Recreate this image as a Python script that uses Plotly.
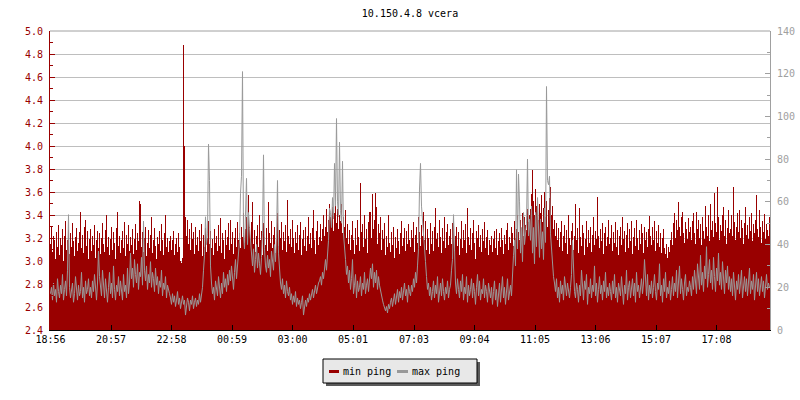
import plotly.graph_objects as go

TITLE = "10.150.4.8 vcera"
START = "18:56"
STEP_MIN = 2
TICK_LABELS = ["18:56", "20:57", "22:58", "00:59", "03:00", "05:01",
               "07:03", "09:04", "11:05", "13:06", "15:07", "17:08"]
LEFT_RANGE = [2.4, 5.0]
RIGHT_RANGE = [0, 140]
LEGEND_NAMES = ["min ping", "max ping"]

# min ping (ms, left axis), one value per 2 minutes
MIN_PING = [
    3.15, 3.30, 3.08, 3.22, 3.18, 3.02, 3.25, 3.12, 3.31, 3.05, 3.20, 3.14, 3.28, 3.00, 3.22, 3.35, 3.10, 3.18, 3.27, 3.06,
    3.24, 3.12, 3.33, 3.17, 3.04, 3.21, 3.29, 3.09, 3.16, 3.25, 3.43, 3.11, 3.23, 3.07, 3.30, 3.36, 3.13, 3.26, 3.02, 3.19,
    3.28, 3.09, 3.22, 3.14, 3.31, 3.03, 3.18, 3.26, 3.11, 3.24, 3.06, 3.20, 3.33, 3.15, 3.08, 3.27, 3.40, 3.12, 3.21, 3.05,
    3.19, 3.30, 3.10, 3.25, 3.16, 3.02, 3.29, 3.43, 3.13, 3.22, 3.07, 3.18, 3.26, 3.11, 3.34, 3.04, 3.23, 3.15, 3.31, 3.09,
    3.21, 3.14, 3.28, 3.06, 3.19, 3.32, 3.10, 3.24, 3.17, 3.52, 3.50, 3.12, 3.25, 3.08, 3.20, 3.30, 3.04, 3.16, 3.27, 3.11,
    3.23, 3.38, 3.07, 3.18, 3.29, 3.13, 3.02, 3.21, 3.15, 3.26, 3.09, 3.32, 3.18, 3.05, 3.24, 3.40, 3.12, 3.20, 3.08, 3.17,
    3.22, 3.10, 3.18, 3.26, 3.05, 3.15, 3.20, 3.08, 3.24, 3.12, 3.00, 2.98, 3.03, 4.88, 4.00, 3.38, 3.22, 3.36, 3.15, 3.28,
    3.10, 3.33, 3.19, 3.25, 3.06, 3.30, 3.14, 3.21, 3.09, 3.27, 3.17, 3.32, 3.04, 3.23, 3.12, 3.29, 3.08, 3.20, 3.35, 3.15,
    3.26, 3.11, 3.19, 3.05, 3.28, 3.16, 3.22, 3.09, 3.31, 3.13, 3.37, 3.07, 3.24, 3.18, 3.02, 3.27, 3.14, 3.21, 3.33, 3.10,
    3.36, 3.15, 3.25, 3.06, 3.20, 3.29, 3.12, 3.34, 3.18, 3.24, 3.11, 3.30, 3.21, 3.42, 3.16, 3.28, 3.38, 3.22, 3.57, 3.30,
    3.19, 3.34, 3.51, 3.15, 3.27, 3.08, 3.22, 3.31, 3.12, 3.40, 3.18, 3.26, 3.05, 3.33, 3.21, 3.14, 3.29, 3.09, 3.51, 3.24,
    3.16, 3.35, 3.11, 3.23, 3.30, 3.07, 3.19, 3.42, 3.13, 3.27, 3.20, 3.34, 3.10, 3.25, 3.17, 3.31, 3.08, 3.53, 3.22, 3.15,
    3.28, 3.12, 3.36, 3.20, 3.07, 3.25, 3.16, 3.31, 3.10, 3.23, 3.34, 3.05, 3.19, 3.27, 3.13, 3.30, 3.09, 3.22, 3.38, 3.15,
    3.24, 3.11, 3.29, 3.44, 3.18, 3.06, 3.26, 3.35, 3.14, 3.21, 3.32, 3.17, 3.28, 3.40, 3.22, 3.30, 3.45, 3.25, 3.36, 3.50,
    3.38, 3.30, 3.47, 3.26, 3.42, 3.59, 3.33, 3.45, 3.28, 3.40, 3.35, 3.50, 3.24, 3.38, 3.30, 3.44, 3.20, 3.32, 3.15, 3.27,
    3.10, 3.23, 3.35, 3.18, 3.06, 3.29, 3.14, 3.36, 3.21, 3.09, 3.68, 3.25, 3.32, 3.12, 3.40, 3.19, 3.28, 3.07, 3.34, 3.43,
    3.43, 3.20, 3.58, 3.28, 3.36, 3.59, 3.47, 3.15, 3.32, 3.24, 3.38, 3.10, 3.27, 3.19, 3.33, 3.05, 3.22, 3.12, 3.40, 3.16,
    3.08, 3.25, 3.14, 3.30, 3.03, 3.21, 3.11, 3.28, 3.17, 3.06, 3.24, 3.35, 3.13, 3.20, 3.29, 3.09, 3.26, 3.15, 3.32, 3.18,
    3.12, 3.27, 3.20, 3.34, 3.08, 3.23, 3.30, 3.16, 3.38, 3.25, 3.13, 3.31, 3.22, 3.43, 3.18, 3.35, 3.10, 3.28, 3.20, 3.06,
    3.33, 3.15, 3.26, 3.09, 3.30, 3.46, 3.19, 3.24, 3.12, 3.36, 3.21, 3.07, 3.29, 3.17, 3.38, 3.11, 3.25, 3.32, 3.14, 3.22,
    3.28, 3.15, 3.33, 3.40, 3.09, 3.22, 3.30, 3.13, 3.25, 3.05, 3.19, 3.35, 3.11, 3.27, 3.18, 3.32, 3.07, 3.46, 3.21, 3.14,
    3.29, 3.10, 3.24, 3.36, 3.16, 3.02, 3.26, 3.20, 3.31, 3.12, 3.23, 3.08, 3.28, 3.17, 3.34, 3.11, 3.21, 3.27, 3.05, 3.18,
    3.14, 3.22, 3.08, 3.19, 3.26, 3.11, 3.28, 3.05, 3.17, 3.24, 3.12, 3.29, 3.18, 3.06, 3.23, 3.15, 3.27, 3.33, 3.10, 3.21,
    3.16, 3.30, 3.24, 3.13, 3.35, 3.20, 3.28, 3.40, 3.25, 3.18, 3.36, 3.29, 3.42, 3.22, 3.38, 3.31, 3.27, 3.45, 3.34, 3.40,
    3.45, 3.58, 3.79, 3.52, 3.40, 3.63, 3.48, 3.55, 3.36, 3.50, 3.42, 3.57, 3.34, 3.46, 3.60, 3.38, 3.52, 3.30, 3.44, 3.55,
    3.64, 3.40, 3.48, 3.28, 3.36, 3.22, 3.33, 3.18, 3.29, 3.12, 3.25, 3.35, 3.09, 3.22, 3.31, 3.16, 3.27, 3.06, 3.40, 3.20,
    3.14, 3.26, 3.33, 3.10, 3.22, 3.50, 3.18, 3.29, 3.07, 3.46, 3.21, 3.13, 3.31, 3.24, 3.05, 3.19, 3.35, 3.12, 3.27, 3.16,
    3.30, 3.08, 3.23, 3.38, 3.14, 3.26, 3.19, 3.56, 3.22, 3.11, 3.28, 3.17, 3.33, 3.06, 3.24, 3.30, 3.13, 3.21, 3.36, 3.15,
    3.20, 3.31, 3.09, 3.25, 3.16, 3.34, 3.12, 3.27, 3.05, 3.22, 3.30, 3.14, 3.38, 3.19, 3.26, 3.08, 3.23, 3.33, 3.11, 3.28,
    3.17, 3.35, 3.06, 3.21, 3.29, 3.13, 3.36, 3.20, 3.10, 3.27, 3.15, 3.32, 3.24, 3.07, 3.30, 3.18, 3.25, 3.12, 3.28, 3.39,
    3.22, 3.14, 3.30, 3.18, 3.35, 3.09, 3.26, 3.16, 3.31, 3.12, 3.24, 3.07, 3.20, 3.28, 3.11, 3.06, 3.15, 3.03, 3.12, 3.08,
    3.18, 3.25, 3.14, 3.33, 3.42, 3.20, 3.36, 3.27, 3.51, 3.30, 3.22, 3.38, 3.43, 3.24, 3.16, 3.34, 3.28, 3.19, 3.37, 3.25,
    3.30, 3.18, 3.35, 3.42, 3.24, 3.15, 3.43, 3.28, 3.36, 3.20, 3.32, 3.14, 3.38, 3.26, 3.19, 3.48, 3.30, 3.22, 3.40, 3.17,
    3.50, 3.27, 3.35, 3.21, 3.59, 3.33, 3.25, 3.64, 3.38, 3.18, 3.31, 3.26, 3.40, 3.47, 3.22, 3.36, 3.15, 3.29, 3.44, 3.24,
    3.28, 3.40, 3.22, 3.64, 3.34, 3.18, 3.30, 3.42, 3.25, 3.44, 3.20, 3.36, 3.29, 3.15, 3.33, 3.47, 3.23, 3.31, 3.19, 3.38,
    3.26, 3.42, 3.17, 3.32, 3.24, 3.36, 3.57, 3.28, 3.21, 3.44, 3.30, 3.16, 3.35, 3.25, 3.41, 3.19, 3.32, 3.27, 3.22, 3.38,
]

# max ping (ms, right axis), one value per 2 minutes
MAX_PING = [
    17, 20, 14, 22, 16, 19, 13, 24, 18, 15, 21, 17, 26, 14, 19, 23, 16, 28, 54, 20,
    15, 18, 22, 13, 17, 25, 19, 14, 21, 16, 18, 27, 15, 20, 13, 23, 17, 19, 24, 16,
    20, 15, 23, 18, 26, 17, 14, 22, 37, 25, 19, 16, 28, 21, 15, 24, 18, 13, 20, 27,
    17, 22, 15, 30, 19, 14, 21, 18, 25, 16, 23, 19, 14, 26, 18, 21, 15, 29, 17, 22,
    36, 24, 29, 20, 33, 26, 22, 31, 19, 27, 25, 34, 21, 51, 28, 23, 30, 19, 26, 22,
    32, 20, 27, 24, 18, 29, 21, 25, 17, 23, 20, 28, 16, 22, 19, 25, 15, 21, 18, 17,
    15, 12, 17, 13, 16, 11, 14, 18, 12, 15, 10, 13, 16, 12, 14, 7, 11, 15, 13, 9,
    14, 12, 16, 10, 13, 15, 11, 14, 12, 17, 13, 16, 20, 28, 35, 53, 40, 45, 87, 70,
    30, 22, 17, 20, 14, 23, 18, 16, 25, 19, 15, 22, 17, 27, 20, 24, 18, 26, 21, 28,
    23, 30, 25, 19, 27, 33, 24, 29, 36, 42, 64, 72, 121, 45, 38, 52, 71, 40, 55, 48,
    42, 35, 30, 38, 27, 33, 40, 29, 36, 31, 26, 34, 45, 82, 38, 30, 27, 35, 29, 33,
    25, 37, 31, 28, 40, 32, 44, 70, 36, 28, 22, 19, 24, 17, 21, 15, 23, 18, 16, 20,
    14, 17, 12, 16, 13, 18, 11, 15, 12, 14, 10, 13, 16, 7, 12, 14, 11, 15, 13, 17,
    14, 16, 19, 15, 18, 21, 17, 20, 22, 23, 25, 21, 27, 24, 30, 33, 28, 36, 42, 57,
    55, 48, 62, 52, 78, 58, 99, 60, 53, 88, 56, 50, 79, 45, 40, 33, 26, 30, 22, 28,
    19, 24, 33, 17, 21, 26, 15, 23, 18, 20, 25, 16, 22, 19, 27, 17, 21, 24, 18, 26,
    29, 24, 31, 20, 27, 22, 28, 19, 25, 21, 18, 16, 14, 12, 10, 9, 11, 8, 12, 10,
    13, 15, 11, 14, 17, 12, 16, 19, 13, 18, 15, 20, 14, 17, 22, 16, 19, 13, 21, 18,
    16, 21, 18, 24, 20, 27, 22, 30, 38, 66, 78, 58, 50, 44, 40, 32, 25, 19, 22, 16,
    20, 14, 18, 23, 15, 21, 17, 25, 13, 19, 22, 16, 24, 18, 14, 20, 17, 23, 15, 19,
    21, 28, 33, 54, 30, 22, 17, 24, 19, 15, 23, 18, 26, 14, 20, 17, 25, 13, 21, 16,
    19, 24, 15, 22, 18, 12, 20, 26, 16, 23, 14, 19, 17, 24, 15, 21, 18, 13, 22, 17,
    15, 20, 12, 18, 23, 14, 19, 11, 17, 22, 13, 18, 25, 15, 20, 12, 17, 24, 14, 19,
    21, 16, 28, 35, 42, 30, 75, 38, 73, 60, 36, 48, 32, 55, 40, 45, 50, 80, 44, 52,
    42, 58, 36, 48, 31, 55, 39, 62, 45, 34, 52, 38, 46, 33, 57, 41, 114, 70, 68, 72,
    45, 38, 30, 25, 22, 18, 24, 15, 20, 13, 23, 17, 21, 14, 25, 19, 16, 22, 18, 15,
    20, 26, 42, 24, 18, 15, 22, 19, 13, 21, 16, 28, 18, 14, 23, 19, 26, 12, 20, 17,
    24, 15, 21, 18, 30, 16, 22, 13, 19, 25, 17, 21, 14, 23, 18, 27, 15, 20, 16, 22,
    18, 14, 23, 17, 26, 15, 20, 13, 22, 19, 16, 25, 18, 12, 21, 17, 28, 14, 20, 23,
    15, 19, 24, 16, 22, 13, 27, 18, 21, 15, 19, 24, 17, 22, 33, 20, 16, 26, 14, 21,
    17, 23, 15, 20, 26, 18, 14, 22, 19, 31, 16, 21, 13, 24, 18, 27, 15, 20, 17, 23,
    14, 19, 25, 16, 22, 18, 28, 15, 21, 30, 17, 24, 19, 14, 22, 26, 16, 20, 18, 23,
    20, 16, 25, 19, 28, 22, 17, 31, 24, 19, 35, 21, 27, 18, 30, 24, 39, 20, 26, 33,
    22, 28, 19, 34, 25, 18, 29, 23, 36, 21, 27, 19, 32, 24, 17, 28, 22, 30, 19, 25,
    18, 24, 16, 27, 21, 14, 23, 19, 26, 17, 22, 28, 15, 20, 25, 18, 24, 16, 21, 29,
    17, 23, 19, 26, 14, 22, 27, 18, 24, 16, 20, 25, 18, 23, 15, 21, 26, 19, 22, 20,
]

RED = "#990000"
GRAY = "#999999"
AXIS_GRAY = "#a0a0a0"
FONT = "DejaVu Sans Mono"


def minutes_from_start(label):
    h, m = map(int, label.split(":"))
    sh, sm = map(int, START.split(":"))
    return ((h * 60 + m) - (sh * 60 + sm)) % 1440


# sample times (minutes after START)
t_min = [i * STEP_MIN for i in range(len(MIN_PING))]
t_max = [i * STEP_MIN for i in range(len(MAX_PING))]
span = len(MIN_PING) * STEP_MIN
# the area is drawn as steps covering each sample's interval (t - step/2 .. t + step/2)
area_x = [t - STEP_MIN / 2 for t in t_min] + [t_min[-1] + STEP_MIN / 2]
area_y = MIN_PING + [MIN_PING[-1]]
tickvals = [minutes_from_start(t) for t in TICK_LABELS]
x_range = [-STEP_MIN / 2, span - STEP_MIN / 2]

fig = go.Figure()
fig.add_trace(go.Scatter(
    x=area_x, y=area_y, mode="lines", line=dict(color=RED, width=0, shape="hv"),
    fill="tozeroy", fillcolor=RED, name=LEGEND_NAMES[0], hoverinfo="skip"))
fig.add_trace(go.Scatter(
    x=t_max, y=MAX_PING, mode="lines",
    line=dict(color=GRAY, width=1, shape="linear"),
    yaxis="y2", name=LEGEND_NAMES[1], hoverinfo="skip"))

# plot area geometry (pixels)
L, R, T, B = 50, 30, 31, 70
W, H = 800, 400
pw, ph = W - L - R, H - T - B


def px(xp):
    return (xp - L) / pw


def py(yp):
    return (H - B - yp) / ph


shapes = [
    # top border
    dict(type="line", xref="paper", yref="paper", x0=0, x1=1, y0=1, y1=1,
         line=dict(color=AXIS_GRAY, width=1)),
    # legend shadow
    dict(type="rect", xref="paper", yref="paper", x0=px(326), x1=px(480), y0=py(362), y1=py(386),
         fillcolor="#5a5a5a", line=dict(width=0), layer="above"),
    # legend box
    dict(type="rect", xref="paper", yref="paper", x0=px(323), x1=px(477), y0=py(359), y1=py(383),
         fillcolor="#e8e8e8", line=dict(color="black", width=1), layer="above"),
    # legend swatches
    dict(type="line", xref="paper", yref="paper", x0=px(329), x1=px(339), y0=py(371.5), y1=py(371.5),
         line=dict(color=RED, width=3), layer="above"),
    dict(type="line", xref="paper", yref="paper", x0=px(397), x1=px(408), y0=py(371.5), y1=py(371.5),
         line=dict(color=GRAY, width=3), layer="above"),
]

annotations = [
    dict(text=LEGEND_NAMES[0], xref="paper", yref="paper", x=px(341), y=py(371),
         xanchor="left", yanchor="middle", showarrow=False, font=dict(size=10, color="black", family=FONT)),
    dict(text=LEGEND_NAMES[1], xref="paper", yref="paper", x=px(410), y=py(371),
         xanchor="left", yanchor="middle", showarrow=False, font=dict(size=10, color="black", family=FONT)),
]

fig.update_layout(
    width=W, height=H,
    margin=dict(l=L, r=R, t=T, b=B, pad=0, autoexpand=False),
    paper_bgcolor="white", plot_bgcolor="white",
    font=dict(family=FONT, size=10, color="black"),
    title=dict(text=TITLE, x=0.5, xref="paper", xanchor="center",
               y=1 - 13.5 / H, yref="container", yanchor="middle", automargin=False,
               font=dict(size=10, color="black", family=FONT)),
    showlegend=False,
    shapes=shapes,
    annotations=annotations,
    xaxis=dict(range=x_range, tickmode="array", tickvals=tickvals, ticktext=TICK_LABELS,
               ticks="inside", ticklen=5, tickcolor="black", tickwidth=1,
               showline=True, linecolor="black", linewidth=1, automargin=False,
               showgrid=False, zeroline=False, tickfont=dict(color="black", size=10)),
    yaxis=dict(range=LEFT_RANGE, tick0=2.4, dtick=0.2, tickformat=".1f",
               ticks="inside", ticklen=5, tickcolor=RED, tickwidth=1,
               showline=True, linecolor=RED, linewidth=1, automargin=False,
               showgrid=True, gridcolor="#bebebe", gridwidth=1, zeroline=False,
               tickfont=dict(color=RED, size=10), ticklabelstandoff=4,
               minor=dict(dtick=0.1, tick0=2.4, ticks="inside", ticklen=3, tickcolor=RED, showgrid=False)),
    yaxis2=dict(range=RIGHT_RANGE, overlaying="y", side="right", tick0=0, dtick=20,
                ticks="inside", ticklen=5, tickcolor=AXIS_GRAY, tickwidth=1,
                showline=True, linecolor=AXIS_GRAY, linewidth=1, automargin=False,
                showgrid=False, zeroline=False,
                tickfont=dict(color=AXIS_GRAY, size=10), ticklabelstandoff=4,
                minor=dict(dtick=10, tick0=0, ticks="inside", ticklen=3, tickcolor=AXIS_GRAY, showgrid=False)),
)

POST = (
    "document.body.style.margin='0';document.body.style.padding='0';"
    "document.querySelectorAll('.scatterlayer path.js-fill').forEach(function(p){"
    "p.style.shapeRendering='crispEdges';});"
)

fig.write_html("out.html", config={"displayModeBar": False}, post_script=POST)
